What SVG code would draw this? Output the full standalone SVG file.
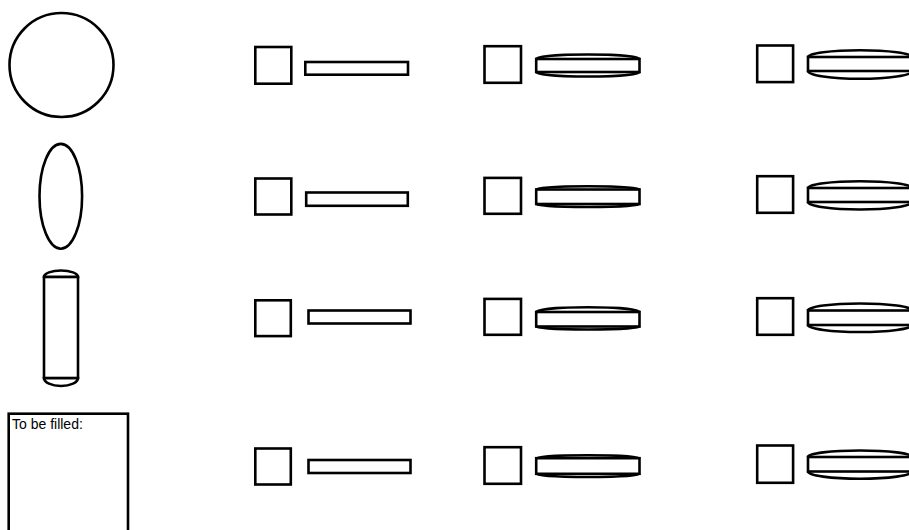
<svg xmlns="http://www.w3.org/2000/svg" width="909" height="530" viewBox="0 0 909 530">
<style>
.s{fill:#fff;stroke:#000;stroke-width:2.6}
.a{fill:none;stroke:#000;stroke-width:2.6}
.t{font-family:"Liberation Sans",Arial,sans-serif;font-size:14px;fill:#000}
</style>
<rect width="909" height="530" fill="#fff"/>
<g id="circle"><circle class="s" cx="61.5" cy="65" r="52"/></g>
<g id="ellipse"><ellipse class="s" cx="60.8" cy="196.3" rx="21.3" ry="52.4"/></g>
<g id="cylinder">
<path class="s" d="M44,277 A17,6.5 0 0 1 78,277 Z"/>
<path class="s" d="M44,378 A17,8 0 0 0 78,378 Z"/>
<rect class="s" x="44" y="277" width="34" height="101"/>
</g>
<g id="note"><rect class="s" x="8.7" y="413.7" width="119.3" height="130"/><text class="t" x="12" y="429">To be filled:</text></g>

<g id="r1c2"><rect class="s" x="255.3" y="47" width="36" height="36.7"/><rect class="s" x="305.3" y="62" width="102.7" height="12.7"/></g>
<g id="r2c2"><rect class="s" x="255.3" y="178.5" width="36" height="36"/><rect class="s" x="306.2" y="192.5" width="101.6" height="13.3"/></g>
<g id="r3c2"><rect class="s" x="255.3" y="300.3" width="35.5" height="35.8"/><rect class="s" x="308.5" y="310.5" width="102" height="13"/></g>
<g id="r4c2"><rect class="s" x="255.3" y="448.5" width="35.5" height="36"/><rect class="s" x="308.5" y="460" width="102" height="13"/></g>

<g id="r1c3"><rect class="s" x="484.5" y="46.2" width="36.5" height="36.6"/>
<rect class="s" x="536.2" y="59" width="103.3" height="13"/>
<path class="a" d="M536.2,59 A51.65,4.5 0 0 1 639.5,59"/><path class="a" d="M536.2,72 A51.65,4.5 0 0 0 639.5,72"/></g>
<g id="r2c3"><rect class="s" x="484.5" y="177.9" width="36.5" height="35.9"/>
<rect class="s" x="536.2" y="189.5" width="103.3" height="14.5"/>
<path class="a" d="M536.2,189.5 A51.65,3.3 0 0 1 639.5,189.5"/><path class="a" d="M536.2,204 A51.65,3 0 0 0 639.5,204"/></g>
<g id="r3c3"><rect class="s" x="484.5" y="298.9" width="36.5" height="35.9"/>
<rect class="s" x="536.2" y="312" width="103.3" height="14.5"/>
<path class="a" d="M536.2,312 A51.65,4.8 0 0 1 639.5,312"/><path class="a" d="M536.2,326.5 A51.65,3 0 0 0 639.5,326.5"/></g>
<g id="r4c3"><rect class="s" x="484.5" y="447.2" width="36.5" height="36.6"/>
<rect class="s" x="536.2" y="458.2" width="103.3" height="15.6"/>
<path class="a" d="M536.2,458.2 A51.65,3 0 0 1 639.5,458.2"/><path class="a" d="M536.2,473.8 A51.65,3.2 0 0 0 639.5,473.8"/></g>

<g id="r1c4"><rect class="s" x="757.2" y="45.5" width="35.9" height="36.6"/>
<rect class="s" x="808" y="57" width="104" height="14"/>
<path class="a" d="M808,57 A52,6.8 0 0 1 912,57"/><path class="a" d="M808,71 A52,7.8 0 0 0 912,71"/></g>
<g id="r2c4"><rect class="s" x="757.2" y="176.2" width="35.9" height="36.6"/>
<rect class="s" x="808" y="188" width="104" height="14"/>
<path class="a" d="M808,188 A52,6.8 0 0 1 912,188"/><path class="a" d="M808,202 A52,7.5 0 0 0 912,202"/></g>
<g id="r3c4"><rect class="s" x="757.2" y="298.2" width="35.9" height="36.6"/>
<rect class="s" x="808" y="310.5" width="104" height="14.5"/>
<path class="a" d="M808,310.5 A52,7 0 0 1 912,310.5"/><path class="a" d="M808,325 A52,7 0 0 0 912,325"/></g>
<g id="r4c4"><rect class="s" x="757.2" y="445.5" width="35.9" height="37.3"/>
<rect class="s" x="808" y="457" width="104" height="14.5"/>
<path class="a" d="M808,457 A52,6.5 0 0 1 912,457"/><path class="a" d="M808,471.5 A52,7.3 0 0 0 912,471.5"/></g>
<g id="connectors"/>
</svg>
